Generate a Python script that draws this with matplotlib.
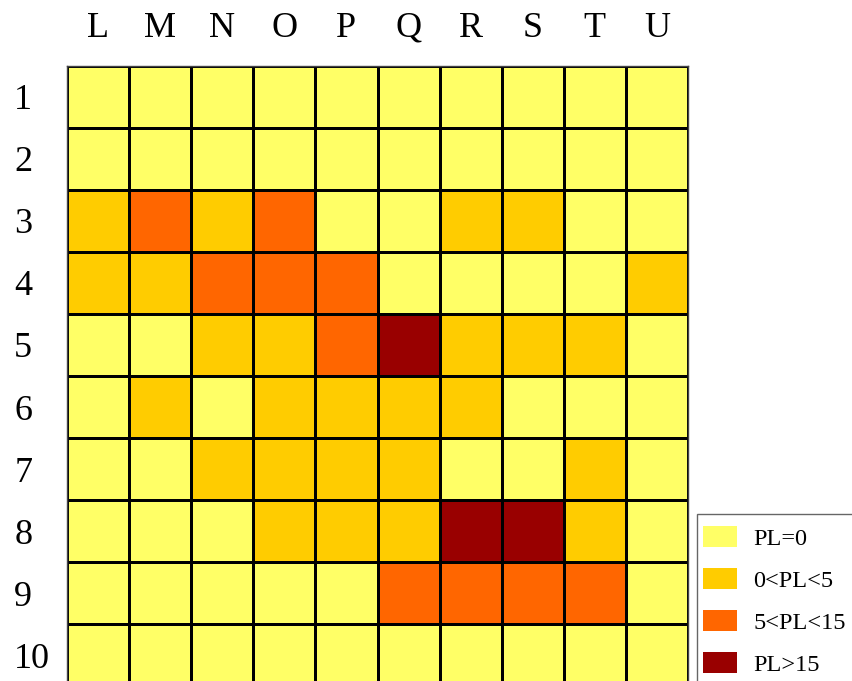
import matplotlib
matplotlib.use("Agg")
import matplotlib.pyplot as plt
import numpy as np
from matplotlib.colors import ListedColormap, BoundaryNorm
from matplotlib.patches import Patch, Rectangle

columns = ["L", "M", "N", "O", "P", "Q", "R", "S", "T", "U"]
rows = ["1", "2", "3", "4", "5", "6", "7", "8", "9", "10"]
# class index: 0 -> PL=0, 1 -> 0<PL<5, 2 -> 5<PL<15, 3 -> PL>15
levels = [
    [0, 0, 0, 0, 0, 0, 0, 0, 0, 0],
    [0, 0, 0, 0, 0, 0, 0, 0, 0, 0],
    [1, 2, 1, 2, 0, 0, 1, 1, 0, 0],
    [1, 1, 2, 2, 2, 0, 0, 0, 0, 1],
    [0, 0, 1, 1, 2, 3, 1, 1, 1, 0],
    [0, 1, 0, 1, 1, 1, 1, 0, 0, 0],
    [0, 0, 1, 1, 1, 1, 0, 0, 1, 0],
    [0, 0, 0, 1, 1, 1, 3, 3, 1, 0],
    [0, 0, 0, 0, 0, 2, 2, 2, 2, 0],
    [0, 0, 0, 0, 0, 0, 0, 0, 0, 0],
]
class_labels = ["PL=0", "0<PL<5", "5<PL<15", "PL>15"]
class_colors = ["#FFFF66", "#FFCC00", "#FF6600", "#990000"]

plt.rcParams["font.family"] = ["Liberation Serif", "DejaVu Serif"]

W, H = 852, 681
fig = plt.figure(figsize=(W / 100, H / 100), dpi=100)
gx0, gy0, gsize = 67, 65.5, 621
ax = fig.add_axes([gx0 / W, (H - gy0 - gsize) / H, gsize / W, gsize / H])

cmap = ListedColormap(class_colors)
norm = BoundaryNorm([-0.5, 0.5, 1.5, 2.5, 3.5], cmap.N)
data = np.array(levels)
ax.pcolormesh(np.arange(len(columns) + 1), np.arange(len(rows) + 1), data,
              cmap=cmap, norm=norm, edgecolors="black", linewidth=0.75)
ax.set_xlim(0, len(columns))
ax.set_ylim(len(rows), 0)

ax.xaxis.tick_top()
ax.set_xticks(np.arange(len(columns)) + 0.5)
ax.set_xticklabels(columns, fontsize=26)
ax.set_yticks(np.arange(len(rows)) + 0.5)
ax.set_yticklabels(rows, fontsize=26, ha="left")
ax.tick_params(axis="x", length=0, pad=15)
ax.tick_params(axis="y", length=0, pad=38)
for s in ax.spines.values():
    s.set_edgecolor("#444444")
    s.set_linewidth(1.0)

# legend frame extending past the figure edge, as in the reference
fig.patches.append(Rectangle((697 / W, -0.05), 0.2, (H - 514) / H + 0.05,
                             transform=fig.transFigure, facecolor="white",
                             edgecolor="#666666", linewidth=1.0, zorder=5))

handles = [Patch(facecolor=c, edgecolor="none") for c in class_colors]
leg = fig.legend(handles, class_labels, loc="upper left",
                 bbox_to_anchor=(697 / W, 1 - 520 / H),
                 fontsize=17.5, frameon=False,
                 handlelength=1.4, handleheight=0.95,
                 labelspacing=0.75, borderpad=0.25, borderaxespad=0,
                 handletextpad=0.66)
leg.set_zorder(6)

fig.savefig("out.png", dpi=100)
